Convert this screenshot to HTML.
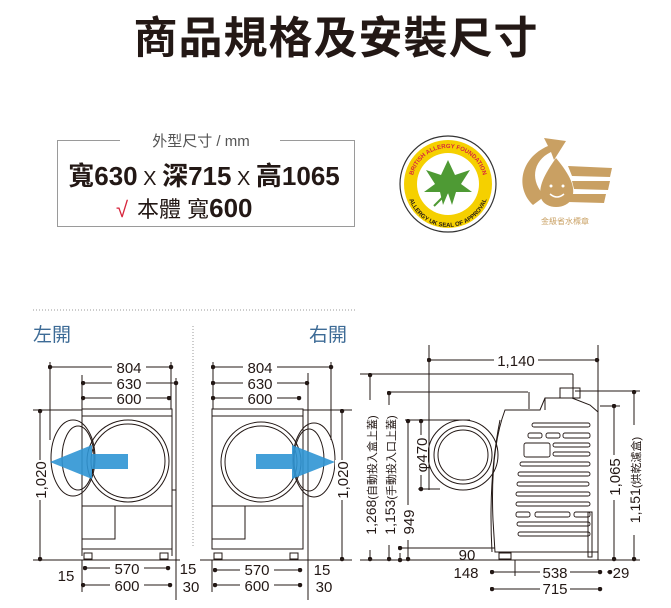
<!DOCTYPE html>
<html><head><meta charset="utf-8"><style>
html,body{margin:0;padding:0;background:#fff;}
svg{display:block;}
text{font-family:"Liberation Sans","Noto Sans CJK TC",sans-serif;fill:#231815;}
</style></head><body>
<svg width="671" height="608" viewBox="0 0 671 608" xmlns="http://www.w3.org/2000/svg">
<defs>
<marker id="d" viewBox="0 0 6 6" refX="3" refY="3" markerWidth="4.5" markerHeight="4.5" markerUnits="userSpaceOnUse"><circle cx="3" cy="3" r="3" fill="#231815"/></marker>
</defs>
<!-- title -->
<text x="336" y="53" text-anchor="middle" font-size="44" font-weight="bold" letter-spacing="1">商品規格及安裝尺寸</text>

<!-- spec box -->
<rect x="57.5" y="140.5" width="297" height="86" fill="none" stroke="#9a9a9a" stroke-width="1"/>
<rect x="120" y="132" width="160" height="16" fill="#fff"/>
<text x="201" y="146" text-anchor="middle" font-size="15" style="fill:#555">外型尺寸 / mm</text>
<text x="204" y="185" text-anchor="middle" font-size="26" font-weight="bold">寬630<tspan font-weight="normal" font-size="20"> X </tspan>深715<tspan font-weight="normal" font-size="20"> X </tspan>高1065</text>
<text x="116" y="217" font-size="22" style="fill:#d7263d">√</text>
<text x="137" y="217" font-size="22">本體 寬<tspan font-weight="bold" font-size="26">600</tspan></text>

<!-- allergy logo -->
<circle cx="448" cy="184" r="48" fill="#fff" stroke="#333" stroke-width="1.2"/>
<circle cx="448" cy="184" r="44" fill="#f5d000"/>
<circle cx="448" cy="184" r="31" fill="#fff"/>
<path d="M448 160 L455 175 L470 170 L461 184 L472 192 L456 192 L452 205 L448 193 L443 205 L440 192 L424 192 L435 184 L426 170 L441 175 Z" fill="#4e9a34"/>
<line x1="448" y1="192" x2="434" y2="206" stroke="#4e9a34" stroke-width="2"/>
<path id="ta" d="M412 184 A36 36 0 0 1 484 184" fill="none"/>
<text font-size="6" font-weight="bold" style="fill:#d7263d"><textPath href="#ta" startOffset="50%" text-anchor="middle">BRITISH ALLERGY FOUNDATION</textPath></text>
<path id="tb" d="M407 186 A41 41 0 0 0 489 186" fill="none"/>
<text font-size="6" font-weight="bold"><textPath href="#tb" startOffset="50%" text-anchor="middle">ALLERGY UK SEAL OF APPROVAL</textPath></text>

<!-- water logo -->
<g fill="#c9a063">
<path d="M533 205 C515 188 520 158 548 146 L544 138 L566 141 L554 160 L551 152 C532 161 530 182 545 196 Z"/>
<path d="M556 158 C544 175 538 187 541 198 C545 210 567 210 572 198 C576 187 570 175 556 158 Z"/>
<path d="M568 166 L612 168 L610 177 L572 176 Z M572 181 L610 181 L608 190 L574 189 Z M570 194 L606 194 L604 203 L568 202 Z"/>
</g>
<g fill="#fff"><circle cx="551" cy="186" r="1.5"/><circle cx="563" cy="186" r="1.5"/></g>
<path d="M550 194 Q557 200 564 194" stroke="#fff" stroke-width="1.5" fill="none"/>
<text x="565" y="224" text-anchor="middle" font-size="8" style="fill:#c9a063">金級省水標章</text>

<!-- dividers -->
<line x1="33" y1="310" x2="355" y2="310" stroke="#999" stroke-dasharray="1,2"/>
<line x1="193" y1="326" x2="193" y2="547" stroke="#999" stroke-dasharray="1,2"/>
<text x="33" y="341" font-size="19" style="fill:#3d6b96">左開</text>
<text x="309" y="341" font-size="19" style="fill:#3d6b96">右開</text>

<g stroke="#231815" stroke-width="1" fill="none">
<!-- LEFT machine -->
<rect x="82" y="409" width="90" height="140"/>
<line x1="82" y1="416" x2="172" y2="416"/>
<line x1="82" y1="506" x2="172" y2="506"/>
<rect x="82" y="506" width="33" height="33"/>
<circle cx="128" cy="461" r="41"/>
<circle cx="128" cy="461" r="37"/>
<ellipse cx="73" cy="458" rx="22" ry="38"/>
<ellipse cx="78" cy="458" rx="16" ry="32"/>
<line x1="82" y1="549" x2="82" y2="556"/><line x1="172" y1="549" x2="172" y2="556"/>
<rect x="84" y="553" width="8" height="6"/><rect x="160" y="553" width="8" height="6"/>
<path d="M172 490 L176 490 L176 556"/>
<line x1="50" y1="367" x2="171" y2="367" marker-start="url(#d)" marker-end="url(#d)"/>
<line x1="83" y1="383" x2="176" y2="383" marker-start="url(#d)" marker-end="url(#d)"/>
<line x1="83" y1="398" x2="169" y2="398" marker-start="url(#d)" marker-end="url(#d)"/>
<line x1="50" y1="362" x2="50" y2="440"/><line x1="82" y1="375" x2="82" y2="409"/>
<line x1="171" y1="362" x2="171" y2="409"/><line x1="176" y1="378" x2="176" y2="600"/>
<line x1="33" y1="410" x2="82" y2="410"/><line x1="33" y1="560" x2="180" y2="560"/>
<line x1="40" y1="411" x2="40" y2="559" marker-start="url(#d)" marker-end="url(#d)"/>
<line x1="85" y1="568" x2="168" y2="568" marker-start="url(#d)" marker-end="url(#d)"/>
<line x1="83" y1="585" x2="170" y2="585" marker-start="url(#d)" marker-end="url(#d)"/>
<line x1="82" y1="560" x2="82" y2="592"/>

<!-- RIGHT machine -->
<rect x="212" y="409" width="91" height="140"/>
<line x1="212" y1="416" x2="303" y2="416"/>
<line x1="212" y1="506" x2="303" y2="506"/>
<rect x="212" y="506" width="33" height="33"/>
<circle cx="261" cy="462" r="40"/>
<circle cx="261" cy="462" r="36"/>
<ellipse cx="314" cy="460" rx="21" ry="37"/>
<ellipse cx="309" cy="460" rx="15" ry="31"/>
<rect x="214" y="553" width="8" height="6"/><rect x="290" y="553" width="8" height="6"/>
<line x1="213" y1="367" x2="331" y2="367" marker-start="url(#d)" marker-end="url(#d)"/>
<line x1="213" y1="383" x2="307" y2="383" marker-start="url(#d)" marker-end="url(#d)"/>
<line x1="213" y1="398" x2="299" y2="398" marker-start="url(#d)" marker-end="url(#d)"/>
<line x1="213" y1="362" x2="213" y2="409"/><line x1="331" y1="362" x2="331" y2="440"/>
<line x1="308" y1="373" x2="308" y2="600"/>
<line x1="303" y1="410" x2="352" y2="410"/><line x1="200" y1="560" x2="352" y2="560"/>
<line x1="342" y1="411" x2="342" y2="559" marker-start="url(#d)" marker-end="url(#d)"/>
<line x1="215" y1="570" x2="300" y2="570" marker-start="url(#d)" marker-end="url(#d)"/>
<line x1="215" y1="585" x2="300" y2="585" marker-start="url(#d)" marker-end="url(#d)"/>
<line x1="212" y1="560" x2="212" y2="592"/>

<!-- SIDE view -->
<line x1="429" y1="360" x2="597" y2="360" marker-start="url(#d)" marker-end="url(#d)"/>
<line x1="429" y1="345" x2="429" y2="490"/><line x1="598" y1="345" x2="598" y2="560"/>
<line x1="360" y1="374" x2="573" y2="374"/>
<line x1="370" y1="375" x2="370" y2="559" marker-start="url(#d)" marker-end="url(#d)"/>
<line x1="389" y1="392" x2="528" y2="392"/>
<line x1="389" y1="393" x2="389" y2="559" marker-start="url(#d)" marker-end="url(#d)"/>
<line x1="405" y1="420" x2="470" y2="420"/>
<line x1="408" y1="421" x2="408" y2="559" marker-start="url(#d)" marker-end="url(#d)"/>
<line x1="421" y1="421" x2="421" y2="489" marker-start="url(#d)" marker-end="url(#d)"/>
<line x1="418" y1="489" x2="440" y2="489"/>
<circle cx="463" cy="455" r="35"/><circle cx="463" cy="455" r="29"/><circle cx="463" cy="455" r="25"/>
<path d="M505 410 L540 410 L545 398 L572 398 L590 405 L598 412 L598 552 L495 552 L493 520 Q490 450 505 410 Z"/>
<path d="M500 420 Q488 480 492 552"/>
<line x1="545" y1="410" x2="545" y2="398"/>
<line x1="529" y1="392" x2="529" y2="409"/><line x1="573" y1="374" x2="573" y2="398"/>
<rect x="560" y="388" width="20" height="10"/>
<g stroke-width="0.9">
<rect x="532" y="423" width="58" height="4" rx="2"/>
<rect x="528" y="433" width="14" height="5" rx="2"/><rect x="546" y="433" width="14" height="5" rx="2"/><rect x="563" y="433" width="27" height="5" rx="2"/>
<rect x="524" y="443" width="26" height="14" rx="2"/><rect x="553" y="443" width="37" height="4" rx="2"/><rect x="553" y="452" width="37" height="4" rx="2"/>
<rect x="520" y="462" width="70" height="4" rx="2"/><rect x="518" y="472" width="72" height="4" rx="2"/>
<rect x="517" y="482" width="72" height="4" rx="2"/><rect x="516" y="492" width="74" height="4" rx="2"/>
<rect x="516" y="502" width="74" height="4" rx="2"/>
<rect x="516" y="512" width="14" height="5" rx="2"/><rect x="535" y="512" width="35" height="5" rx="2"/><rect x="574" y="512" width="16" height="5" rx="2"/>
<rect x="517" y="522" width="73" height="4" rx="2"/><rect x="518" y="532" width="72" height="4" rx="2"/>
</g>
<rect x="588" y="512" width="4" height="45"/>
<rect x="499" y="553" width="12" height="6"/>
<line x1="360" y1="560" x2="640" y2="560"/>
<line x1="400" y1="548" x2="495" y2="548" marker-start="url(#d)"/>
<line x1="400" y1="553" x2="400" y2="560" marker-end="url(#d)"/>
<line x1="614" y1="406" x2="614" y2="559" marker-start="url(#d)" marker-end="url(#d)"/>
<line x1="600" y1="406" x2="620" y2="406"/>
<line x1="634" y1="392" x2="634" y2="559" marker-start="url(#d)" marker-end="url(#d)"/>
<line x1="575" y1="391" x2="640" y2="391"/>
<line x1="492" y1="572" x2="600" y2="572" marker-start="url(#d)" marker-end="url(#d)"/>
<line x1="492" y1="589" x2="600" y2="589" marker-start="url(#d)" marker-end="url(#d)"/>
<line x1="515" y1="560" x2="515" y2="576"/>
<line x1="607" y1="572" x2="610" y2="572" marker-end="url(#d)"/>
</g>

<!-- blue arrows -->
<polygon points="128,454 92,454 92,445 50,462 92,479 92,469 128,469" fill="#2f95d4" opacity="0.9"/>
<polygon points="256,454 292,454 292,445 335,462 292,479 292,469 256,469" fill="#2f95d4" opacity="0.9"/>

<!-- dim labels -->
<g font-size="15" text-anchor="middle">
<rect x="112" y="359" width="34" height="16" fill="#fff"/><text x="129" y="373">804</text>
<rect x="112" y="375" width="34" height="16" fill="#fff"/><text x="129" y="389">630</text>
<rect x="112" y="390" width="34" height="16" fill="#fff"/><text x="129" y="404">600</text>
<rect x="243" y="359" width="34" height="16" fill="#fff"/><text x="260" y="373">804</text>
<rect x="243" y="375" width="34" height="16" fill="#fff"/><text x="260" y="389">630</text>
<rect x="243" y="390" width="34" height="16" fill="#fff"/><text x="260" y="404">600</text>
<rect x="110" y="561" width="34" height="15" fill="#fff"/><text x="127" y="574">570</text>
<rect x="110" y="578" width="34" height="15" fill="#fff"/><text x="127" y="591">600</text>
<rect x="240" y="562" width="34" height="15" fill="#fff"/><text x="257" y="575">570</text>
<rect x="240" y="578" width="34" height="15" fill="#fff"/><text x="257" y="591">600</text>
<text x="66" y="581">15</text><text x="188" y="574">15</text><text x="191" y="592">30</text>
<text x="322" y="575">15</text><text x="324" y="592">30</text>
<rect x="33" y="460" width="14" height="40" fill="#fff"/><text transform="translate(46,480) rotate(-90)">1,020</text>
<rect x="335" y="460" width="14" height="40" fill="#fff"/><text transform="translate(348,480) rotate(-90)">1,020</text>
<rect x="494" y="352" width="44" height="16" fill="#fff"/><text x="516" y="366">1,140</text>
<rect x="540" y="565" width="30" height="15" fill="#fff"/><text x="555" y="578">538</text>
<rect x="540" y="581" width="30" height="15" fill="#fff"/><text x="555" y="594">715</text>
<text x="466" y="578">148</text><text x="467" y="560">90</text><text x="621" y="578">29</text>
<rect x="363" y="400" width="14" height="150" fill="#fff"/><text transform="translate(376,475) rotate(-90)" font-size="14">1,268<tspan font-size="11">(自動投入盒上蓋)</tspan></text>
<rect x="382" y="405" width="14" height="140" fill="#fff"/><text transform="translate(395,475) rotate(-90)" font-size="14">1,153<tspan font-size="11">(手動投入口上蓋)</tspan></text>
<rect x="401" y="505" width="14" height="35" fill="#fff"/><text transform="translate(414,522) rotate(-90)">949</text>
<rect x="414" y="435" width="14" height="40" fill="#fff"/><text transform="translate(427,455) rotate(-90)">φ470</text>
<rect x="607" y="455" width="14" height="45" fill="#fff"/><text transform="translate(620,477) rotate(-90)">1,065</text>
<rect x="627" y="425" width="14" height="110" fill="#fff"/><text transform="translate(640,480) rotate(-90)" font-size="14">1,151<tspan font-size="11">(烘乾濾盒)</tspan></text>
</g>
</svg>
</body></html>
